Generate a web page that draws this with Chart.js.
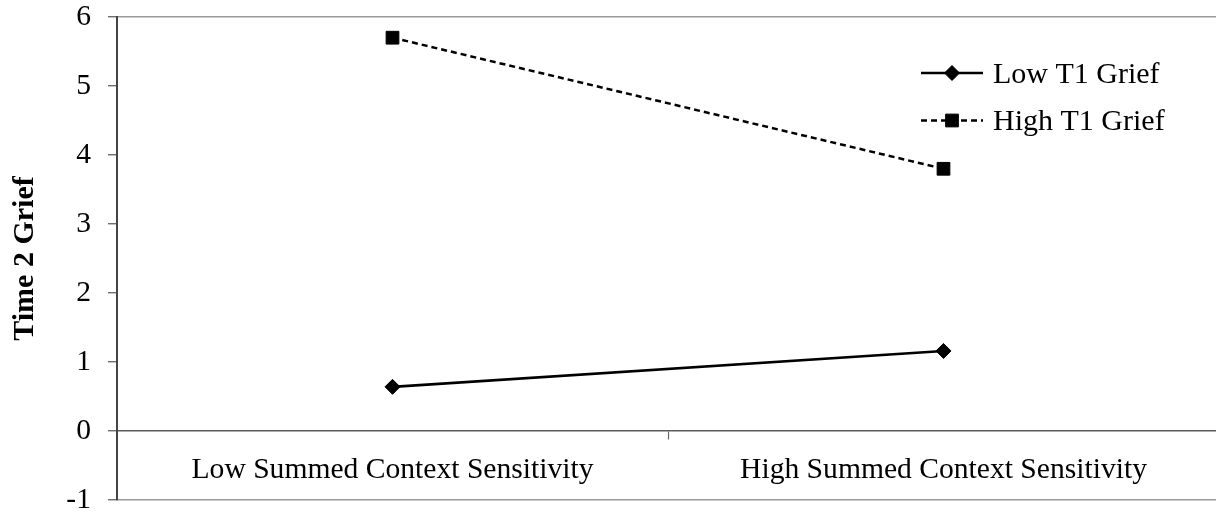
<!DOCTYPE html>
<html>
<head>
<meta charset="utf-8">
<script src="https://cdn.jsdelivr.net/npm/chart.js@4.4.1/dist/chart.umd.min.js"></script>
<style>
  html, body { margin: 0; padding: 0; background: #fff; overflow: hidden; }
  #wrap { width: 1219px; height: 516px; }
</style>
</head>
<body>
<div id="wrap"><canvas id="c" width="1219" height="516"></canvas></div>
<script>
// Group means of Time 2 grief by summed context sensitivity
const categories = ['Low Summed Context Sensitivity', 'High Summed Context Sensitivity'];
const seriesNames = ['Low T1 Grief', 'High T1 Grief'];
const lowT1Grief = [0.64, 1.16];
const highT1Grief = [5.70, 3.80];
const yTickValues = [-1, 0, 1, 2, 3, 4, 5, 6];

const SERIF = '"Liberation Serif", "Times New Roman", Times, serif';

// Legend drawn inside the plot: line sample with the series marker, then the name
const seriesKey = {
  id: 'seriesKey',
  afterDraw(chart, args, opts) {
    const { ctx, chartArea } = chart;
    const x0 = chartArea.right - opts.fromRight;
    chart.data.datasets.forEach((ds, i) => {
      const y = chartArea.top + opts.top + i * opts.rowGap;
      ctx.save();
      ctx.strokeStyle = ds.borderColor;
      ctx.lineWidth = ds.borderWidth;
      ctx.setLineDash(ds.borderDash || []);
      ctx.beginPath();
      ctx.moveTo(x0, y);
      ctx.lineTo(x0 + opts.sampleWidth, y);
      ctx.stroke();
      ctx.setLineDash([]);
      ctx.fillStyle = ds.pointBackgroundColor;
      ctx.strokeStyle = ds.pointBorderColor;
      ctx.lineWidth = 1;
      Chart.helpers.drawPoint(ctx, {
        pointStyle: ds.pointStyle,
        radius: ds.pointRadius * opts.markerScale,
        rotation: 0,
        borderWidth: 1
      }, x0 + opts.sampleWidth / 2, y);
      ctx.fillStyle = '#000';
      ctx.font = opts.fontSize + 'px ' + SERIF;
      ctx.textAlign = 'left';
      ctx.textBaseline = 'middle';
      ctx.fillText(ds.label, x0 + opts.sampleWidth + opts.textGap, y + opts.textShift);
      ctx.restore();
    });
  }
};

const clear = 'rgba(0,0,0,0)';

new Chart(document.getElementById('c'), {
  type: 'line',
  data: {
    labels: categories,
    datasets: [
      {
        label: seriesNames[0],
        data: lowT1Grief,
        borderColor: '#000',
        borderWidth: 2.6,
        pointStyle: 'rectRot',
        pointRadius: 7.5,
        pointBackgroundColor: '#000',
        pointBorderColor: '#000',
        pointBorderWidth: 1,
        tension: 0
      },
      {
        label: seriesNames[1],
        data: highT1Grief,
        borderColor: '#000',
        borderWidth: 2.5,
        borderDash: [6, 4],
        pointStyle: 'rect',
        pointRadius: 9,
        pointBackgroundColor: '#000',
        pointBorderColor: '#000',
        pointBorderWidth: 1,
        tension: 0
      }
    ]
  },
  options: {
    responsive: false,
    animation: false,
    devicePixelRatio: 1,
    layout: { autoPadding: false, padding: { left: 0, right: 0, top: 17, bottom: 16 } },
    plugins: {
      legend: { display: false },
      tooltip: { enabled: false },
      seriesKey: {
        fromRight: 298, top: 56, rowGap: 47.5, sampleWidth: 62,
        textGap: 10, textShift: 2, fontSize: 30, markerScale: 1
      }
    },
    scales: {
      x: {
        type: 'category',
        offset: true,
        position: { y: 0 },
        afterFit: (scale) => { scale.paddingLeft = 0; scale.paddingRight = 0; },
        border: { display: true, color: '#5a5a5a', width: 1.5 },
        grid: {
          offset: true,
          drawOnChartArea: false,
          drawTicks: true,
          tickLength: 8,
          tickWidth: 1.2,
          tickColor: (c) => (c.index === 1 ? '#666' : clear)
        },
        ticks: {
          color: '#000',
          padding: 16,
          maxRotation: 0,
          autoSkip: false,
          font: { family: SERIF, size: 29.6, lineHeight: 1 }
        }
      },
      y: {
        min: -1,
        max: 6,
        afterBuildTicks: (scale) => { scale.ticks = yTickValues.map(v => ({ value: v })); },
        afterFit: (scale) => {
          scale.width = 117;
          scale.paddingTop = 0;
          scale.paddingBottom = 0;
        },
        border: { display: true, color: '#444', width: 2 },
        grid: {
          color: (c) => (c.tick && (c.tick.value === 6 || c.tick.value === -1) ? '#9a9a9a' : clear),
          lineWidth: 1.5,
          tickColor: '#555',
          tickLength: 9,
          tickWidth: 1.2
        },
        ticks: {
          color: '#000',
          padding: 17,
          font: { family: SERIF, size: 29.6, lineHeight: 1 }
        },
        title: {
          display: true,
          text: 'Time 2 Grief',
          color: '#000',
          font: { family: SERIF, size: 30, weight: 'bold' },
          padding: { top: 7, bottom: 0 }
        }
      }
    }
  },
  plugins: [seriesKey]
});
</script>
</body>
</html>
